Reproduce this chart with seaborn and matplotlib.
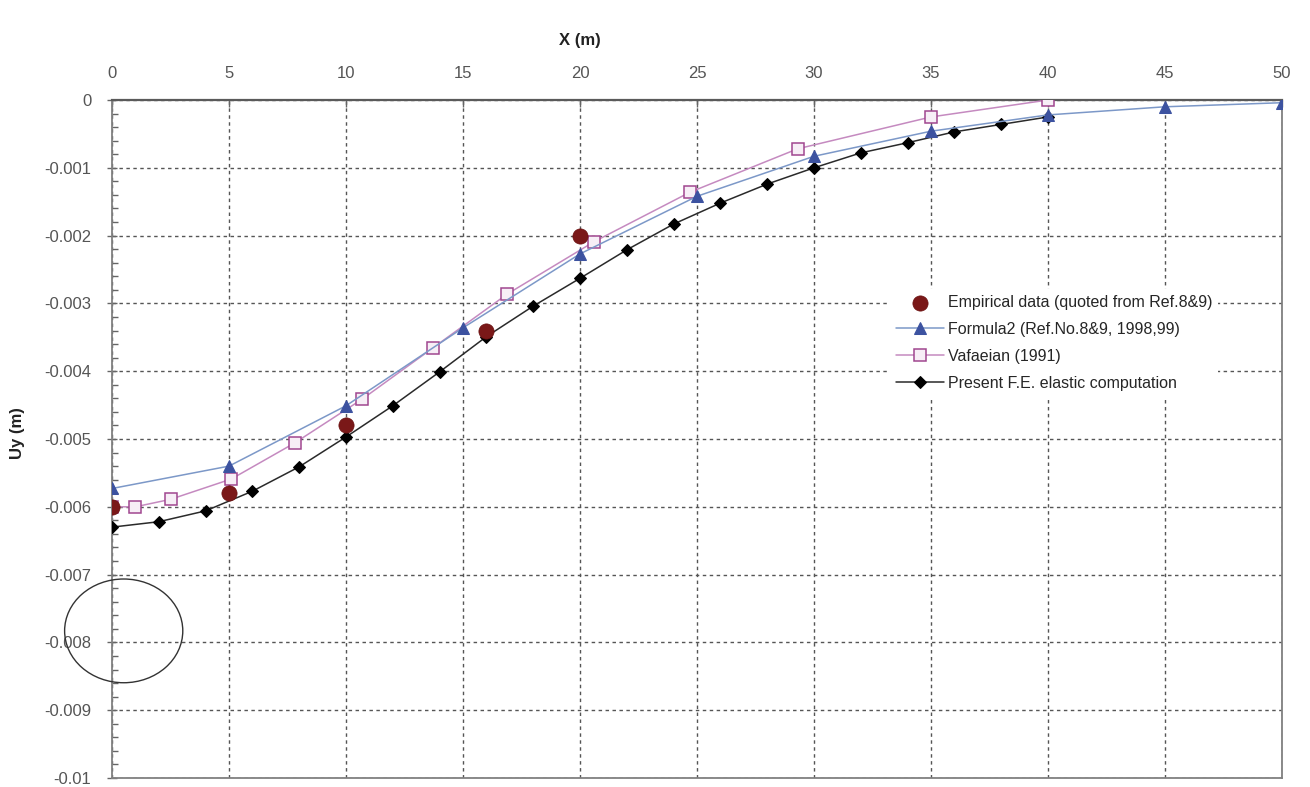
import matplotlib
matplotlib.use("Agg")
import matplotlib.pyplot as plt
import seaborn as sns
from matplotlib.patches import Ellipse
from matplotlib.ticker import MultipleLocator, FuncFormatter

# Vertical displacement Uy (m) along the surface X (m)
fe_x = [0, 2, 4, 6, 8, 10, 12, 14, 16, 18, 20, 22, 24, 26, 28, 30, 32, 34, 36, 38, 40]
fe_uy = [-0.00630, -0.00622, -0.00606, -0.00577, -0.00541, -0.00497, -0.00451,
         -0.00401, -0.00349, -0.00304, -0.00263, -0.00221, -0.00183, -0.00152,
         -0.00124, -0.00100, -0.00078, -0.00063, -0.00047, -0.00036, -0.00025]

f2_x = [0, 5, 10, 15, 20, 25, 30, 35, 40, 45, 50]
f2_uy = [-0.00573, -0.00540, -0.00451, -0.00336, -0.00227, -0.00142,
         -0.00083, -0.00046, -0.00022, -0.00010, -0.00004]

vaf_x = [0, 1.0, 2.5, 5.1, 7.8, 10.7, 13.7, 16.9, 20.6, 24.7, 29.3, 35.0, 40.0]
vaf_uy = [-0.00600, -0.00600, -0.00589, -0.00559, -0.00506, -0.00441, -0.00366,
          -0.00286, -0.00209, -0.00136, -0.00072, -0.00025, 0.0]

emp_x = [0, 5, 10, 16, 20]
emp_uy = [-0.0060, -0.0058, -0.0048, -0.0034, -0.0020]

labels = ["Empirical data (quoted from Ref.8&9)",
          "Formula2 (Ref.No.8&9, 1998,99)",
          "Vafaeian (1991)",
          "Present F.E. elastic computation"]

x_ticks = [0, 5, 10, 15, 20, 25, 30, 35, 40, 45, 50]

sns.set_theme(style="white")
plt.rcParams["font.family"] = ["Liberation Sans", "DejaVu Sans"]

W, H = 1310, 787
fig = plt.figure(figsize=(W / 100, H / 100), dpi=100)
ax = fig.add_axes([112 / W, 1 - 778 / H, (1282 - 112) / W, (778 - 100) / H])

sns.lineplot(x=fe_x, y=fe_uy, ax=ax, color="#2a2a2a", lw=1.1, marker="D",
             markersize=6.5, markerfacecolor="black", markeredgecolor="black",
             label=labels[3], sort=False, zorder=3)
sns.lineplot(x=vaf_x, y=vaf_uy, ax=ax, color="#c58ac0", lw=1.1, marker="s",
             markersize=8.5, markerfacecolor="#f7eef6", markeredgecolor="#a0468f",
             markeredgewidth=1.1, label=labels[2], sort=False, zorder=4)
sns.lineplot(x=f2_x, y=f2_uy, ax=ax, color="#7c98c8", lw=1.1, marker="^",
             markersize=9, markerfacecolor="#3c52a0", markeredgecolor="#3c52a0",
             label=labels[1], sort=False, zorder=5)
sns.scatterplot(x=emp_x, y=emp_uy, ax=ax, color="#7a1818", s=120,
                edgecolor="#6a1010", linewidth=0.5, label=labels[0], zorder=6)

ax.set_xlim(0, 50)
ax.set_ylim(-0.01, 0)
ax.set_xticks(x_ticks)
ax.yaxis.set_major_locator(MultipleLocator(0.001))
ax.yaxis.set_minor_locator(MultipleLocator(0.0002))
ax.yaxis.set_major_formatter(FuncFormatter(lambda v, p: f"{round(v, 6) + 0.0:g}"))

ax.xaxis.tick_top()
ax.tick_params(axis="x", which="major", direction="in", length=5, width=1,
               color="#666", labelsize=12, labelcolor="#555", pad=14)
ax.tick_params(axis="y", which="major", direction="inout", length=7, width=1,
               color="#666", labelsize=12, labelcolor="#555", pad=11.5, left=True)
ax.tick_params(axis="y", which="minor", direction="in", length=4, width=1,
               color="#666", left=True)

ax.grid(True, which="major", color="#555", lw=1.0, ls=(0, (2.5, 2.5)))
ax.set_axisbelow(True)

for name, sp in ax.spines.items():
    sp.set_visible(True)
    sp.set_color("#808080")
    sp.set_linewidth(1.3)
ax.spines["top"].set_color("#5a5a5a")
ax.spines["top"].set_linewidth(1.6)

ax.set_xlabel("")
ax.set_ylabel("Uy (m)", fontsize=12, fontweight="bold", color="#222")
ax.yaxis.set_label_coords((25 - 112) / (1282 - 112), 0.509)
fig.text(580 / W, 1 - 40 / H, "X (m)", fontsize=12, fontweight="bold",
         color="#222", ha="center", va="center")

# Marked region near the origin
ax.add_patch(Ellipse((0.5, -0.00783), width=5.05, height=0.00153, fill=False,
                     ec="#333", lw=1.0, clip_on=False, zorder=7))

handles, labs = ax.get_legend_handles_labels()
order = [labs.index(l) for l in labels]
leg = ax.legend([handles[i] for i in order], [labs[i] for i in order],
                loc="center left", bbox_to_anchor=(890 / W, 1 - 343 / H),
                bbox_transform=fig.transFigure, frameon=True, fancybox=False,
                facecolor="white", edgecolor="none", framealpha=1.0,
                fontsize=11.5, handlelength=3.0, handletextpad=0.3,
                labelspacing=0.75, borderpad=0.35, borderaxespad=0)
leg.set_zorder(10)

fig.savefig("out.png", dpi=100, facecolor="white")
